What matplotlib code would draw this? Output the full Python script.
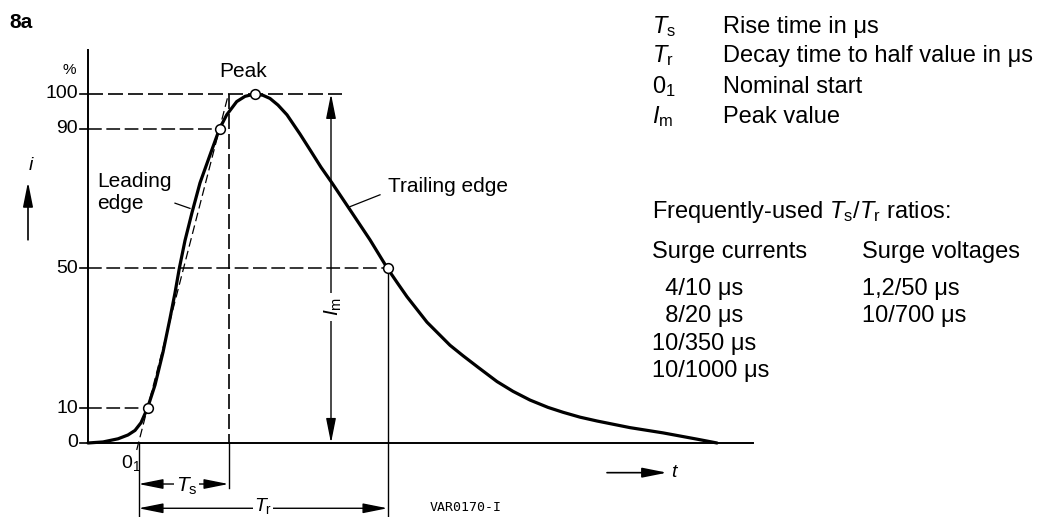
import matplotlib
matplotlib.use('Agg')
import matplotlib.pyplot as plt

plt.rcParams['font.family'] = ['Liberation Sans', 'DejaVu Sans']
plt.rcParams['mathtext.fontset'] = 'custom'
plt.rcParams['mathtext.rm'] = 'Liberation Sans'
plt.rcParams['mathtext.it'] = 'Liberation Sans:italic'

W, H = 1038, 517

# surge current shape (time in arbitrary units, current in % of peak)
t_curve = [0, 1.5, 3.0, 4.0, 4.7, 5.3, 5.95, 6.7, 7.5, 8.2, 8.7, 9.13, 9.7, 10.4,
           11.2, 12.2, 13.15, 13.87, 14.87, 15.7, 16.7, 17.5, 18.2, 19.0, 19.9,
           21.2, 22.2, 23.3, 24.4, 26.2, 28.2, 29.95, 31.0, 31.9, 33.9, 36.2,
           37.5, 39.0, 40.9, 42.5, 44.2, 46.0, 47.5, 49.2, 50.9, 54.2, 57.5,
           60.9, 62.9]
i_curve = [0, 0.3, 1.2, 2.3, 3.6, 5.8, 10, 16.6, 26, 35.7, 43, 50, 58, 66,
           74.5, 82.5, 90, 94.0, 97.8, 99.3, 100, 99.6, 98.7, 96.8, 94.0,
           88.5, 84, 79, 74.5, 66.8, 58.2, 50, 45.6, 41.9, 34.6, 28.0,
           25.0, 21.7, 17.6, 14.8, 12.3, 10.2, 8.8, 7.4, 6.3, 4.4, 2.9,
           1.1, 0]

# marked points: 10 %, 90 %, peak, half value on the tail
t_marks = [5.95, 13.15, 16.7, 29.95]
i_marks = [10, 90, 100, 50]

levels = [0, 10, 50, 90, 100]
level_labels = ['0', '10', '50', '90', '100']

t_im = 24.3      # position of the I_m dimension line
t_axis_end = 66.5

# straight line through the 10 % and 90 % points gives O1 and the end of Ts
slope = (i_marks[1] - i_marks[0]) / (t_marks[1] - t_marks[0])
t_o1 = t_marks[0] - i_marks[0] / slope
t_100 = t_marks[0] + (100 - i_marks[0]) / slope
t_half = t_marks[3]

fig = plt.figure(figsize=(W / 100, H / 100), dpi=100)
ax = fig.add_axes([0, 0, 1, 1])
ax.set_xlim(-8.8, 95.0)
ax.set_ylim(-21.2, 126.9)
ax.axis('off')

def ftext(x, y, s, **kw):
    # text placed in pixel positions of the figure
    fig.text(x / W, 1 - y / H, s, **kw)

dash = (0, (9, 3))

# axes
ax.plot([0, 0], [0, 112.6], color='k', lw=1.4)
ax.plot([0, t_axis_end], [0, 0], color='k', lw=1.4)
for lv, lab in zip(levels, level_labels):
    ax.plot([-0.8, 0], [lv, lv], color='k', lw=1.2)
    ax.text(-1.0, lv, lab, ha='right', va='center', fontsize=14)
ax.text(-1.9, 106.9, '%', ha='center', va='center', fontsize=11)

# dashed reference levels
ax.plot([0, t_marks[0]], [10, 10], color='k', lw=1.1, ls=dash)
ax.plot([0, t_marks[1]], [90, 90], color='k', lw=1.1, ls=dash)
ax.plot([0, t_half], [50, 50], color='k', lw=1.1, ls=dash)
ax.plot([0, t_im + 1.1], [100, 100], color='k', lw=1.2, ls=dash)

# front line and Ts boundary
ax.plot([t_o1 - 2 / slope, t_100], [-2, 100], color='k', lw=0.9, ls=(0, (7, 3.5)))
ax.plot([t_100, t_100], [100, 0], color='k', lw=1.2, ls=dash)
ax.plot([t_100, t_100], [0, -12.9], color='k', lw=1.0)
ax.plot([t_o1, t_o1], [0, -22], color='k', lw=1.0)
ax.plot([t_half, t_half], [50, -22], color='k', lw=1.0)

# the wave
ax.plot(t_curve, i_curve, color='k', lw=2.3, solid_capstyle='round', solid_joinstyle='round')
ax.plot(t_marks, i_marks, 'o', ms=7, mfc='white', mec='k', mew=1.1, zorder=5)

arr2 = dict(arrowstyle='<|-|>,head_length=1.0,head_width=0.2', color='k', lw=1.0,
            shrinkA=0, shrinkB=0, mutation_scale=15)
arr1 = dict(arrowstyle='-|>,head_length=1.0,head_width=0.2', color='k', lw=1.2,
            shrinkA=0, shrinkB=0, mutation_scale=15)
white = dict(facecolor='white', edgecolor='none', pad=1.0)

# Ts and Tr dimensions
ax.annotate('', xy=(t_100, -11.75), xytext=(t_o1, -11.75), arrowprops=arr2)
ax.text((t_o1 + t_100) / 2 + 0.3, -12.3, '$T_\\mathrm{s}$', ha='center', va='center',
        fontsize=15, bbox=white)
ax.annotate('', xy=(t_half, -18.7), xytext=(t_o1, -18.7), arrowprops=arr2)
ax.text((t_o1 + t_half) / 2, -20.9, '$T_\\mathrm{r}$', ha='center', va='bottom',
        fontsize=14, bbox=dict(facecolor='white', edgecolor='none', pad=0.5))

# peak value dimension
ax.annotate('', xy=(t_im, 100), xytext=(t_im, 0), arrowprops=arr2)
ax.text(t_im + 0.2, 39, '$I_\\mathrm{m}$', rotation=90, ha='center', va='center',
        fontsize=15, bbox=dict(facecolor='white', edgecolor='none', pad=3))

# axis direction arrows
ax.annotate('', xy=(-6.0, 74.8), xytext=(-6.0, 58.2), arrowprops=arr1)
ax.text(-5.7, 79.6, 'i', style='italic', ha='center', va='center', fontsize=14)
ax.annotate('', xy=(57.9, -8.5), xytext=(51.9, -8.5), arrowprops=arr1)
ax.text(58.3, -8.5, 't', style='italic', ha='left', va='center', fontsize=14)

# labels on the graph
ax.text(15.5, 106.3, 'Peak', ha='center', va='center', fontsize=15)
ax.text(0.9, 75.0, 'Leading', ha='left', va='center', fontsize=15)
ax.text(0.9, 68.6, 'edge', ha='left', va='center', fontsize=15)
ax.plot([8.7, 10.2], [68.7, 67.2], color='k', lw=0.9)
ax.text(30.0, 73.4, 'Trailing edge', ha='left', va='center', fontsize=15)
ax.plot([29.2, 26.2], [71.1, 67.7], color='k', lw=0.9)
ax.text(3.3, -5.7, '0$_\\mathrm{1}$', ha='left', va='center', fontsize=14)
ax.text(34.2, -18.6, 'VAR0170-I', ha='left', va='center', fontsize=9.5,
        family='DejaVu Sans Mono')

ftext(9, 22, '8a', ha='left', va='center', fontsize=15, fontweight='bold')

# legend text on the right
sym_x, desc_x = 651.7, 723.3
legend_rows = [('$T_\\mathrm{s}$', 'Rise time in μs', 33.3),
               ('$T_\\mathrm{r}$', 'Decay time to half value in μs', 61.7),
               ('0$_\\mathrm{1}$', 'Nominal start', 93.3),
               ('$I_\\mathrm{m}$', 'Peak value', 123.3)]
for sym, desc, y in legend_rows:
    ftext(sym_x, y, sym, ha='left', va='baseline', fontsize=17)
    ftext(desc_x, y, desc, ha='left', va='baseline', fontsize=17)

ftext(sym_x, 218.3, 'Frequently-used $T_\\mathrm{s}/T_\\mathrm{r}$ ratios:',
      ha='left', va='baseline', fontsize=17)
ftext(sym_x, 258.3, 'Surge currents', ha='left', va='baseline', fontsize=17)
ftext(861.7, 258.3, 'Surge voltages', ha='left', va='baseline', fontsize=17)

currents = ['  4/10 μs', '  8/20 μs', '10/350 μs', '10/1000 μs']
voltages = ['1,2/50 μs', '10/700 μs']
ratio_y = [295, 321.7, 350, 376.7]
for s, y in zip(currents, ratio_y):
    ftext(sym_x, y, s, ha='left', va='baseline', fontsize=17)
for s, y in zip(voltages, ratio_y):
    ftext(861.7, y, s, ha='left', va='baseline', fontsize=17)

fig.savefig('out.png', dpi=100)
